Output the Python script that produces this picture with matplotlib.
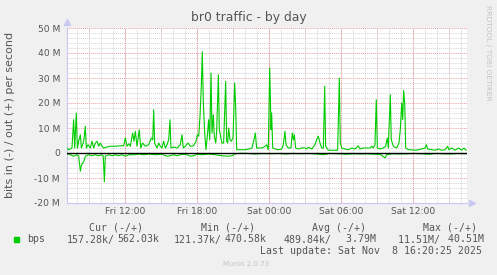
import matplotlib
matplotlib.use("Agg")
import matplotlib.pyplot as plt
from matplotlib.ticker import MultipleLocator, FixedLocator

# hours since Fri 00:00, values in M bits/s
out_t = [7.17, 7.31, 7.58, 7.72, 7.81, 7.94, 8.03, 8.14, 8.28, 8.36, 8.47, 8.58, 8.69, 8.78,
         8.92, 9.11, 9.25, 9.39, 9.53, 9.67, 9.81, 9.94, 10.08, 10.22, 10.5, 10.78, 11.19,
         11.61, 11.89, 12.03, 12.17, 12.31, 12.44, 12.64, 12.75, 12.86, 13.0, 13.19, 13.31,
         13.47, 13.69, 13.97, 14.19, 14.31, 14.39, 14.47, 14.67, 14.81, 14.94, 15.08, 15.22,
         15.36, 15.5, 15.64, 15.75, 15.83, 16.06, 16.33, 16.61, 16.75, 16.86, 17.03, 17.25,
         17.44, 17.72, 17.92, 18.03, 18.14, 18.25, 18.36, 18.44, 18.53, 18.64, 18.75, 18.86,
         18.97, 19.06, 19.17, 19.25, 19.36, 19.44, 19.56, 19.64, 19.78, 19.86, 19.97, 20.08,
         20.22, 20.39, 20.47, 20.56, 20.64, 20.75, 20.86, 21.0, 21.14, 21.22, 21.31, 21.47,
         21.75, 22.03, 22.31, 22.58, 22.72, 22.86, 22.97, 23.14, 23.42, 23.67, 23.81, 23.94,
         24.06, 24.17, 24.22, 24.31, 24.5, 24.78, 25.06, 25.19, 25.33, 25.42, 25.61, 25.83,
         25.94, 26.03, 26.11, 26.22, 26.44, 26.72, 27.0, 27.14, 27.28, 27.56, 27.83, 27.97,
         28.11, 28.25, 28.39, 28.53, 28.64, 28.72, 28.94, 29.22, 29.5, 29.72, 29.86, 29.94,
         30.06, 30.33, 30.61, 30.89, 31.17, 31.44, 31.58, 31.86, 32.14, 32.42, 32.56, 32.69,
         32.83, 32.94, 33.03, 33.25, 33.53, 33.72, 33.86, 33.94, 34.11, 34.19, 34.36, 34.64,
         34.83, 34.94, 35.06, 35.14, 35.22, 35.31, 35.39, 35.61, 35.89, 36.17, 36.44, 36.72,
         37.0, 37.11, 37.22, 37.56, 37.83, 38.11, 38.39, 38.67, 38.89, 39.0, 39.22, 39.5,
         39.78, 40.06, 40.25, 40.42]
out_v = [2.0, 1.3, 2.0, 13.3, 2.0, 16.0, 2.0, 4.7, 7.3, 2.0, 3.3, 5.3, 10.7, 2.0,
         3.3, 2.0, 4.7, 2.0, 4.0, 4.7, 2.7, 4.0, 2.7, 2.0, 2.4, 2.7, 2.7,
         2.9, 2.9, 6.0, 2.7, 3.7, 2.7, 8.0, 4.7, 8.7, 2.7, 9.3, 2.0,
         4.0, 2.7, 3.3, 6.0, 5.3, 17.3, 4.0, 2.0, 4.0, 2.7, 2.0, 4.7,
         2.0, 3.3, 5.3, 13.3, 2.0, 2.4, 2.0, 3.3, 7.3, 2.0, 2.7, 4.0,
         2.7, 2.9, 4.7, 7.3, 6.7, 14.7, 26.7, 40.5, 20.0, 8.0, 1.3, 6.7,
         13.3, 5.3, 32.0, 8.0, 15.3, 6.7, 4.0, 8.7, 31.3, 9.3, 6.7, 4.0,
         4.0, 28.7, 4.7, 4.0, 10.0, 5.3, 4.7, 6.0, 28.0, 18.7, 1.3, 1.3,
         1.3, 1.3, 1.6, 2.0, 4.7, 8.0, 2.0, 2.0, 2.0, 2.7, 3.3, 1.3,
         34.0, 9.3, 16.0, 2.0, 1.6, 1.3, 1.6, 3.3, 8.7, 3.3, 2.0, 2.0,
         8.0, 5.3, 7.3, 2.0, 1.6, 2.0, 2.0, 1.6, 2.3, 1.6, 3.3, 5.3,
         6.7, 4.0, 2.0, 2.0, 26.7, 2.7, 1.1, 1.1, 1.1, 1.1, 30.0, 4.0,
         2.0, 1.6, 1.3, 2.0, 1.6, 2.9, 1.6, 2.0, 2.0, 2.0, 2.7, 2.0,
         3.3, 21.3, 2.0, 1.6, 2.0, 2.7, 6.0, 2.0, 23.3, 5.3, 2.7, 2.0,
         4.0, 9.3, 20.0, 13.3, 25.0, 20.0, 2.0, 1.3, 1.3, 1.1, 1.3, 1.6,
         2.0, 3.3, 1.6, 1.3, 1.1, 1.6, 1.1, 1.3, 2.7, 1.3, 2.0, 1.1,
         2.0, 1.1, 2.0, 1.1]

in_t = [7.17, 7.44, 7.72, 8.0, 8.14, 8.28, 8.36, 8.47, 8.58, 8.69, 8.97, 9.25, 9.53, 9.81,
        10.08, 10.19, 10.28, 10.36, 10.64, 10.92, 11.19, 11.47, 11.75, 12.03, 12.31, 12.72,
        13.14, 13.56, 13.97, 14.53, 15.08, 15.5, 15.78, 16.06, 16.33, 16.75, 17.17, 17.44,
        17.72, 18.0, 18.42, 18.97, 19.53, 20.08, 20.5, 20.92, 21.19, 21.75, 22.3, 22.9, 23.5,
        24.1, 24.8, 25.4, 26.0, 26.7, 27.3, 28.0, 28.53, 29.0, 29.8, 30.4, 31.0, 31.6, 32.2,
        32.8, 33.3, 33.67, 33.81, 34.3, 34.9, 35.5, 36.1, 36.7, 37.3, 37.9, 38.5, 39.1, 39.7,
        40.42]
in_v = [-0.3, -0.7, -1.3, -0.7, -1.3, -7.3, -5.0, -4.0, -3.3, -1.3, -0.7, -1.1, -0.7, -1.1,
        -0.7, -1.3, -11.5, -1.3, -0.7, -1.1, -0.7, -1.1, -0.7, -1.3, -0.7, -0.7,
        -0.4, -0.7, -0.4, -0.7, -0.5, -1.3, -1.1, -0.7, -1.1, -0.5, -0.7, -1.3,
        -1.1, -0.5, -0.7, -0.4, -0.7, -1.1, -1.3, -1.1, -0.3, -0.1, -0.2, -0.4, -0.2,
        -0.3, -0.2, -0.4, -0.2, -0.3, -0.2, -0.4, -0.7, -0.2, -0.3, -0.5, -0.3, -0.4, -0.3,
        -0.5, -0.6, -2.0, -0.7, -0.3, -0.4, -0.3, -0.2, -0.3, -0.5, -0.2, -0.3, -0.4, -0.2,
        -0.3]

x_ticks = [12, 18, 24, 30, 36]
x_labels = ["Fri 12:00", "Fri 18:00", "Sat 00:00", "Sat 06:00", "Sat 12:00"]
y_ticks = [-20, -10, 0, 10, 20, 30, 40, 50]
y_labels = ["-20 M", "-10 M", "0", "10 M", "20 M", "30 M", "40 M", "50 M"]

legend_cols = ["Cur (-/+)", "Min (-/+)", "Avg (-/+)", "Max (-/+)"]
legend_in = ["157.28k/", "121.37k/", "489.84k/", " 11.51M/"]
legend_out = ["562.03k", "470.58k", "  3.79M", " 40.51M"]

W, H = 497, 275
green = "#00cc00"
txt = "#555555"

fig = plt.figure(figsize=(W / 100, H / 100), dpi=100, facecolor="#f0f0f0")
ax = fig.add_axes([67 / W, 1 - 203 / H, 400 / W, 175 / H], facecolor="white")

ax.set_xlim(7.1667, 40.5)
ax.set_ylim(-20, 50)

# grid: gray minor, red major
ax.xaxis.set_major_locator(MultipleLocator(3))
ax.xaxis.set_minor_locator(MultipleLocator(1))
ax.yaxis.set_major_locator(MultipleLocator(10))
ax.yaxis.set_minor_locator(MultipleLocator(2))
ax.grid(which="minor", color="#d4d4d4", lw=0.7, ls=(0, (1, 1)))
ax.grid(which="major", color="#eaa0a0", lw=0.7, ls=(0, (1, 1)))
ax.set_axisbelow(True)

ax.plot(in_t, in_v, color=green, lw=0.8, zorder=3)
ax.plot(out_t, out_v, color=green, lw=0.8, zorder=3)
ax.axhline(0, color="black", lw=1.0, zorder=4)

# tick labels
ax.set_xticks(x_ticks, labels=x_labels, minor=False)
ax.xaxis.set_major_locator(FixedLocator(x_ticks))
for h in range(9, 41, 3):
    ax.axvline(h, color="#eaa0a0", lw=0.7, ls=(0, (1, 1)), zorder=0.5)
ax.set_yticks(y_ticks, labels=y_labels)
ax.tick_params(which="both", length=0, colors=txt, labelsize=6.6)
ax.tick_params(axis="y", pad=5)
ax.tick_params(axis="x", pad=3)

for s in ["top", "right"]:
    ax.spines[s].set_visible(False)
for s in ["left", "bottom"]:
    ax.spines[s].set_color("#c8c8f0")
    ax.spines[s].set_linewidth(0.8)
ax.plot([0], [1.035], marker="^", ms=4, color="#c8c8f0", transform=ax.transAxes, clip_on=False)
ax.plot([1.012], [0], marker=">", ms=4, color="#c8c8f0", transform=ax.transAxes, clip_on=False)

fig.text(249 / W, 1 - 17 / H, "br0 traffic - by day", ha="center", va="center",
         fontsize=8.9, color=txt)
fig.text(10.5 / W, 1 - 115 / H, "bits in (-) / out (+) per second", rotation=90,
         ha="center", va="center", fontsize=8, color=txt)
fig.text(488 / W, 1 - 5 / H, "RRDTOOL / TOBI OETIKER", rotation=270,
         ha="center", va="top", fontsize=5.4, color="#c4c4c4")

# legend block
mono = dict(family="DejaVu Sans Mono", fontsize=7.1, color=txt, va="center")
head_x = [89.3, 200.7, 312.3, 423.3]
in_x = [66.7, 174, 283.3, 391.8]
for hx, lab in zip(head_x, legend_cols):
    fig.text(hx / W, 1 - 228 / H, lab, ha="left", **mono)
for ix, a, b in zip(in_x, legend_in, legend_out):
    fig.text(ix / W, 1 - 239.5 / H, a, ha="left", **mono)
    fig.text((ix + 50.2) / W, 1 - 239.5 / H, b, ha="left", **mono)
fig.text(26.7 / W, 1 - 239.5 / H, "bps", ha="left", **mono)
fig.patches.append(plt.Rectangle((13.7 / W, 1 - 242.2 / H), 5.4 / W, 5.4 / H,
                                 transform=fig.transFigure, color=green))
fig.text(482.5 / W, 1 - 251 / H, "Last update: Sat Nov  8 16:20:25 2025", ha="right", **mono)
fig.text(223.3 / W, 1 - 264 / H, "Munin 2.0.73", ha="left", va="center",
         fontsize=5, color="#c4c4c4")

fig.savefig("out.png", dpi=100, facecolor=fig.get_facecolor())
